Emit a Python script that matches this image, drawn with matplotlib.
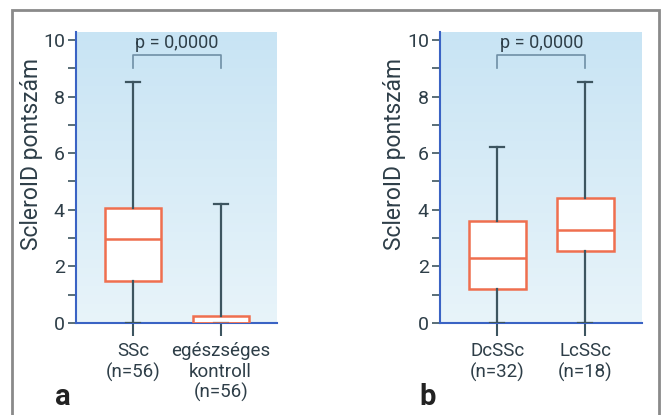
import numpy as np
import matplotlib
matplotlib.use("Agg")
import matplotlib.pyplot as plt
from matplotlib.patches import Rectangle
from matplotlib.colors import LinearSegmentedColormap

plt.rcParams['font.family'] = ['Roboto', 'DejaVu Sans']

# ---- data ----
labels_a = ["SSc\n(n=56)", "egészséges\nkontroll\n(n=56)"]
whislo_a = [0.0, 0.0]
q1_a = [1.5, 0.0]
med_a = [2.95, 0.0]
q3_a = [4.05, 0.25]
whishi_a = [8.5, 4.2]

labels_b = ["DcSSc\n(n=32)", "LcSSc\n(n=18)"]
whislo_b = [0.0, 0.0]
q1_b = [1.2, 2.55]
med_b = [2.3, 3.3]
q3_b = [3.6, 4.4]
whishi_b = [6.2, 8.5]

p_text = "p = 0,0000"
ylabel = "ScleroID pontszám"
yticks = [0, 2, 4, 6, 8, 10]
panel_letters = ["a", "b"]

BOX = "#ef6f4f"
WHISK = "#3d5560"
SPINE = "#3a63c4"
TEXT = "#2e3e48"
BRACKET = "#6f8fa5"

fig = plt.figure(figsize=(6.63, 4.15), dpi=100)

# outer frame
fig.patches.append(Rectangle((12/663, -0.2), (659-12)/663, 1.2 - 10/415,
                             transform=fig.transFigure, fill=False,
                             edgecolor="#8a8a8a", linewidth=2.0))

grad = LinearSegmentedColormap.from_list("g", ["#e8f4fa", "#c8e4f4"])

def panel(rect, labels, lo, q1, med, q3, hi, letter, letter_x, label_x):
    ax = fig.add_axes(rect)
    ax.imshow(np.linspace(0, 1, 256).reshape(-1, 1), cmap=grad, origin="lower",
              extent=[0, 1, 0, 1], aspect="auto", transform=ax.transAxes, zorder=0)
    stats = []
    for i in range(len(labels)):
        stats.append(dict(whislo=lo[i], q1=q1[i], med=med[i], q3=q3[i],
                          whishi=hi[i], fliers=[], label=labels[i]))
    ax.bxp(stats, positions=[1, 2], widths=0.64, showfliers=False,
           patch_artist=True,
           boxprops=dict(facecolor="white", edgecolor=BOX, linewidth=1.8),
           medianprops=dict(color=BOX, linewidth=1.8),
           whiskerprops=dict(color=WHISK, linewidth=1.6),
           capprops=dict(color=WHISK, linewidth=1.6),
           capwidths=0.16, zorder=3)
    ax.set_xlim(0.349, 2.643)
    ax.set_ylim(0, 10.28)
    ax.set_yticks(yticks)
    ax.set_yticks([1, 3, 5, 7, 9], minor=True)
    ax.tick_params(axis="y", which="both", direction="out", color=WHISK,
                   labelcolor=TEXT, labelsize=14, length=6, width=1.2, pad=2)
    ax.tick_params(axis="x", direction="out", color=WHISK, labelcolor=TEXT,
                   labelsize=13.5, length=9, width=1.5, pad=5)
    for t in ax.get_xticklabels():
        t.set_linespacing(1.15)
    for s in ["top", "right"]:
        ax.spines[s].set_visible(False)
    for s in ["left", "bottom"]:
        ax.spines[s].set_color(SPINE)
        ax.spines[s].set_linewidth(1.5)
    ax.set_ylabel(ylabel, fontsize=16.5, color=TEXT)
    ax.yaxis.set_label_coords(label_x, 0.58)
    # bracket
    ax.plot([1, 1, 2, 2], [9.0, 9.47, 9.47, 9.0], color=BRACKET, lw=1.2,
            clip_on=False, zorder=4)
    ax.text(1.5, 9.58, p_text, ha="center", va="bottom", fontsize=13,
            color=TEXT)
    fig.text(letter_x, 1 - 397/415, letter, fontsize=21, fontweight="bold",
             color="#222222", ha="center", va="center")
    return ax

panel([76/663, 92/415, 201/663, 291/415], labels_a, whislo_a, q1_a, med_a,
      q3_a, whishi_a, panel_letters[0], 63/663, -0.165)
panel([440/663, 92/415, 202/663, 291/415], labels_b, whislo_b, q1_b, med_b,
      q3_b, whishi_b, panel_letters[1], 428/663, -0.17)

fig.savefig("out.png", dpi=100)
